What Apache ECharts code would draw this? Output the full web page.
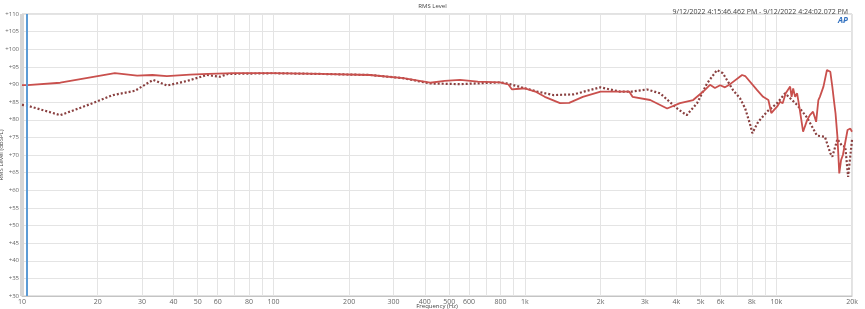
<!DOCTYPE html>
<html>
<head>
<meta charset="utf-8">
<script src="https://cdn.jsdelivr.net/npm/echarts@6/dist/echarts.min.js"></script>
<style>html,body{margin:0;padding:0;background:#fff;}#c{width:865px;height:309px;}</style>
</head>
<body>
<div id="c"></div>
<script>
// Frequency (Hz) and level (dBSPL) for the solid trace
var solidFreq = [10,10.5,14.2,18,23.4,28.7,33,37.7,46.6,55,70,100,153,242,328,420,480,552,650,796,860,889,950,1000,1100,1200,1380,1500,1700,2000,2300,2600,2680,3150,3680,4140,4670,5120,5450,5700,5980,6250,6550,7310,7520,8390,8860,9300,9550,9800,10070,10350,10600,10900,11350,11500,11670,11880,12100,12400,12780,13260,13600,14000,14400,14700,14900,15400,15900,16400,16700,17000,17200,17500,17800,18100,18400,19200,19700,20000];
var solidLevel = [89.8,89.8,90.5,91.8,93.2,92.5,92.7,92.4,92.8,93.0,93.2,93.2,93.0,92.7,91.8,90.5,91.0,91.3,90.8,90.6,90.0,88.6,88.8,88.9,88.0,86.5,84.7,84.8,86.5,88.0,88.0,88.0,86.5,85.6,83.2,84.7,85.6,88.0,89.9,89.0,89.8,89.2,90.1,92.7,92.4,88.4,86.5,85.6,81.9,82.8,83.7,85.1,84.7,87.5,89.4,86.5,88.9,86.5,87.5,82.8,76.6,79.9,81.3,82.3,79.4,85.6,86.5,89.4,94.1,93.6,89.4,84.7,81.8,75.2,64.8,68.6,70,77.1,77.5,76.6];
// Frequency (Hz) and level (dBSPL) for the dotted trace
var dottedFreq = [10,10.5,14.2,18,23,28.1,33.2,37.7,45.3,54.4,61.3,66,100,153,242,328,420,552,796,850,1120,1300,1560,2000,2240,2390,2670,3060,3450,4030,4400,4840,5300,5810,6130,6730,7170,7520,7880,8030,8470,9190,10070,10840,12100,13260,14500,15600,16400,16700,17500,18300,18800,19300,20000];
var dottedLevel = [84.2,84.0,81.3,84.0,87.0,88.2,91.3,89.7,91.0,92.7,92.2,93.0,93.2,93.0,92.7,91.8,90.3,90.1,90.6,90.3,88.0,87.0,87.2,89.2,88.4,88.0,88.0,88.6,87.5,83.2,81.3,84.7,90.3,94.1,93.2,88.4,86.1,83.2,78.5,76.2,79.4,82.3,84.7,87.5,84.2,80.6,75.5,75.2,70.5,69.5,74.5,72.5,72.4,63.8,74.3];
// Axis ticks
var xTicks = [10,20,30,40,50,60,70,80,90,100,200,300,400,500,600,700,800,900,1000,2000,3000,4000,5000,6000,7000,8000,9000,10000,20000];
var xLabelTicks = [10,20,30,40,50,60,80,100,200,300,400,500,600,800,1000,2000,3000,4000,5000,6000,8000,10000,20000];
var cursorFreq = 10.47;

function pairs(f, v) { return f.map(function (x, i) { return [x, v[i]]; }); }
function fmtHz(v) { return v >= 1000 ? (v / 1000) + 'k' : String(v); }

var chart = echarts.init(document.getElementById('c'));
var font = 'Open Sans, DejaVu Sans, sans-serif';
chart.setOption({
  animation: false,
  backgroundColor: '#ffffff',
  title: [
    { text: 'RMS Level', left: 'center', top: -2, textStyle: { fontSize: 6, fontWeight: 'normal', color: '#444', fontFamily: font } },
    { text: '9/12/2022 4:15:46.462 PM - 9/12/2022 4:24:02.072 PM', right: 12, top: 3, textStyle: { fontSize: 7, fontWeight: 'normal', color: '#444', fontFamily: font } }
  ],
  graphic: [
    { type: 'text', left: 838, top: 17, style: { text: 'AP', fontSize: 8, fontStyle: 'italic', fontWeight: 'bold', fill: '#2f6fbf', fontFamily: font } },
    { type: 'rect', left: 20, top: 14, shape: { width: 4, height: 282 }, style: { fill: '#d6d6d6' }, z: 1 }
  ],
  grid: { left: 22, right: 13, top: 14, bottom: 13, show: true, borderColor: '#c4c4c4', borderWidth: 1, outerBoundsMode: 'none', containLabel: false },
  xAxis: {
    type: 'log', logBase: 10, min: 10, max: 20000,
    name: 'Frequency (Hz)', nameLocation: 'middle', nameGap: 7, nameMoveOverlap: false,
    nameTextStyle: { fontSize: 6, color: '#444', fontFamily: font },
    axisLine: { show: true, lineStyle: { color: '#c4c4c4' } },
    axisTick: { show: false, customValues: xTicks },
    axisLabel: { customValues: xLabelTicks, formatter: fmtHz, fontSize: 7, color: '#666', margin: 2, fontFamily: font, showMinLabel: true, showMaxLabel: true, hideOverlap: false },
    splitLine: { show: true, lineStyle: { color: '#e4e4e4', width: 1 } },
    minorTick: { show: false }
  },
  yAxis: {
    type: 'value', min: 30, max: 110, interval: 5,
    name: 'RMS Level (dBSPL)', nameLocation: 'middle', nameGap: 18, nameRotate: 90, nameMoveOverlap: false,
    nameTextStyle: { fontSize: 6, color: '#444', fontFamily: font },
    axisLine: { show: false },
    axisTick: { show: false },
    axisLabel: { formatter: function (v) { return '+' + v; }, fontSize: 6, color: '#666', margin: 3, fontFamily: font },
    splitLine: { show: true, lineStyle: { color: '#e4e4e4', width: 1 } }
  },
  series: [
    {
      type: 'line', name: 'dotted', data: pairs(dottedFreq, dottedLevel), showSymbol: false, smooth: false,
      lineStyle: { color: '#8a4040', width: 2.2, type: [2, 2] }, z: 3
    },
    {
      type: 'line', name: 'solid', data: pairs(solidFreq, solidLevel), showSymbol: false, smooth: false,
      lineStyle: { color: '#c9504d', width: 1.8 }, z: 4,
      markLine: {
        silent: true, symbol: 'none', label: { show: false },
        lineStyle: { color: '#5b9bd5', width: 2, type: 'solid' },
        data: [{ xAxis: cursorFreq }]
      }
    }
  ]
});
</script>
</body>
</html>
